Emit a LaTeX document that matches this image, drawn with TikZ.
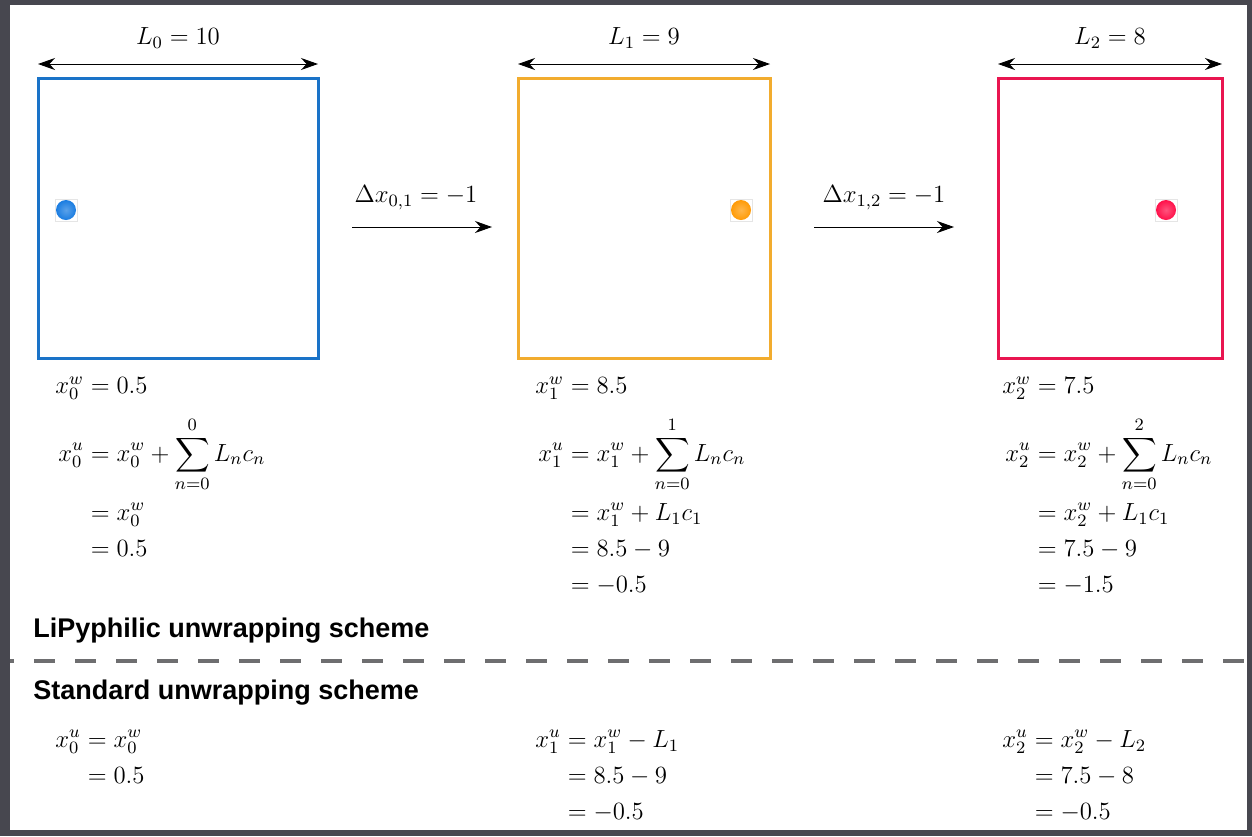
\RequirePackage{fix-cm}
\documentclass[tikz,border=0pt,11pt]{standalone}
\usepackage{amsmath}
\usepackage{fontspec}
\setsansfont{Liberation Sans}
\usetikzlibrary{arrows.meta, positioning}
\setlength{\jot}{3pt}

\definecolor{frameGray}{HTML}{47474F}
\definecolor{dashGray}{HTML}{6E6E70}
\definecolor{boxBlue}{HTML}{1A73C8}
\definecolor{boxOrange}{HTML}{F2AC2E}
\definecolor{boxRed}{HTML}{E91550}
\definecolor{dotBlue}{HTML}{1479E0}
\definecolor{dotOrange}{HTML}{FF9800}
\definecolor{dotRed}{HTML}{FF0A45}

\tikzset{
  simbox/.style={line width=1.5pt, minimum height=140pt, inner sep=0pt, outer sep=0pt, anchor=north west},
  dimarrow/.style={{Stealth[length=8.5pt, width=6pt]}-{Stealth[length=8.5pt, width=6pt]}, line width=0.5pt},
  shiftarrow/.style={-{Stealth[length=8.5pt, width=6pt]}, line width=0.5pt},
  atom/.style={rectangle, draw=gray!20, line width=0.3pt, minimum size=11pt, inner sep=0pt,
               path picture={\shade[inner color=#1!70!white, outer color=#1]
                 (path picture bounding box.center) circle (5pt);}},
  eqline/.style={inner sep=0pt, anchor=west},
  eqblock/.style={inner sep=0pt, anchor=north west},
  heading/.style={font=\sffamily\bfseries\fontsize{13.5}{16}\selectfont, inner sep=0pt, anchor=west},
}

\begin{document}
\begin{tikzpicture}[x=0.5pt, y=-0.5pt, >=Stealth, font=\fontsize{12.4}{15}\selectfont]
  \useasboundingbox (0,0) rectangle (1252,836);

  % Cadre
  \fill[frameGray] (0,0) rectangle (1252,836);
  \fill[white] (10,5) rectangle (1247,830);

  % Boites de simulation
  \foreach \i/\xl/\w/\col/\len in {0/38/140/boxBlue/10, 1/518/126/boxOrange/9, 2/998/112/boxRed/8} {
    \node[simbox, draw=\col, minimum width=\w pt] (box\i) at (\xl,78) {};
    \coordinate (dimL\i) at ([yshift=7pt]box\i.north west);
    \coordinate (dimR\i) at ([yshift=7pt]box\i.north east);
    \draw[dimarrow] (dimL\i) -- (dimR\i);
    \node (len\i) at ([yshift=20pt]box\i.north) {$L_{\i} = \len$};
  }

  % Atomes
  \node[atom=dotBlue] (atom0) at (66,210) {};
  \node[atom=dotOrange] (atom1) at (741,210) {};
  \node[atom=dotRed] (atom2) at (1166,210) {};

  % Deplacements
  \coordinate (sh0a) at (352,227);
  \coordinate (sh0b) at (492,227);
  \draw[shiftarrow] (sh0a) -- (sh0b);
  \node (dx0) at (416,198) {$\Delta x_{0,1} = -1$};
  \coordinate (sh1a) at (814,227);
  \coordinate (sh1b) at (954,227);
  \draw[shiftarrow] (sh1a) -- (sh1b);
  \node (dx1) at (884,198) {$\Delta x_{1,2} = -1$};

  % Schema LiPyphilic
  \node[eqline] (w0) at (55,388) {$x_0^w = 0.5$};
  \node[eqline] (w1) at (535,388) {$x_1^w = 8.5$};
  \node[eqline] (w2) at (1002,388) {$x_2^w = 7.5$};

  \node[eqblock] (u0) at (58,417)
      {$\begin{aligned} x_0^u &= x_0^w + \sum_{n=0}^{0} L_n c_n \\ &= x_0^w \\ &= 0.5 \end{aligned}$};
  \node[eqblock] (u1) at (538,417)
      {$\begin{aligned} x_1^u &= x_1^w + \sum_{n=0}^{1} L_n c_n \\ &= x_1^w + L_1 c_1 \\ &= 8.5 - 9 \\ &= -0.5 \end{aligned}$};
  \node[eqblock] (u2) at (1005,417)
      {$\begin{aligned} x_2^u &= x_2^w + \sum_{n=0}^{2} L_n c_n \\ &= x_2^w + L_1 c_1 \\ &= 7.5 - 9 \\ &= -1.5 \end{aligned}$};

  \node[heading] (lipy) at (33,631) {LiPyphilic unwrapping scheme};

  % Separation
  \coordinate (sepL) at (10,661);
  \coordinate (sepR) at (1247,661);
  \draw[dashGray, line width=1.8pt, dash pattern=on 10.5pt off 10pt, dash phase=8.5pt] (sepL) -- (sepR);

  % Schema standard
  \node[heading] (std) at (33,693) {Standard unwrapping scheme};

  \node[eqblock] (s0) at (55,726)
      {$\begin{aligned} x_0^u &= x_0^w \\ &= 0.5 \end{aligned}$};
  \node[eqblock] (s1) at (535,726)
      {$\begin{aligned} x_1^u &= x_1^w - L_1 \\ &= 8.5 - 9 \\ &= -0.5 \end{aligned}$};
  \node[eqblock] (s2) at (1002,726)
      {$\begin{aligned} x_2^u &= x_2^w - L_2 \\ &= 7.5 - 8 \\ &= -0.5 \end{aligned}$};
\end{tikzpicture}
\end{document}
